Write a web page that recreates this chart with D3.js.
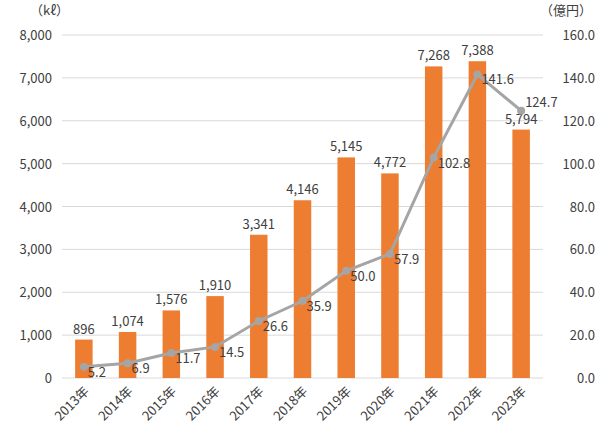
<!DOCTYPE html><html><head><meta charset="utf-8"><script src="https://cdn.jsdelivr.net/npm/d3@7"></script>
<style>body{margin:0;background:#fff}text{font-family:"Noto Sans CJK JP","Noto Sans",sans-serif;fill:#404040}</style></head><body><svg id="c" width="600" height="437"></svg><script>
const years=["2013年","2014年","2015年","2016年","2017年","2018年","2019年","2020年","2021年","2022年","2023年"];
const volume=[896,1074,1576,1910,3341,4146,5145,4772,7268,7388,5794];
const value=[5.2,6.9,11.7,14.5,26.6,35.9,50.0,57.9,102.8,141.6,124.7];
const leftTicks=[0,1000,2000,3000,4000,5000,6000,7000,8000];
const rightTicks=[0,20,40,60,80,100,120,140,160];
const svg=d3.select("#c");
const L=62,R=543,T=35,B=378;
const x=d3.scaleBand().domain(years).range([L,R]).paddingInner(0.6).paddingOuter(0.3);
const y=d3.scaleLinear().domain([0,8000]).range([B,T]);
const y2=d3.scaleLinear().domain([0,160]).range([B,T]);
svg.append("g").selectAll("line").data(leftTicks).join("line").attr("x1",L).attr("x2",R).attr("y1",d=>y(d)).attr("y2",d=>y(d)).attr("stroke","#d9d9d9");
svg.append("g").selectAll("text").data(leftTicks).join("text").attr("x",L-10).attr("y",d=>y(d)+5).attr("text-anchor","end").attr("font-size",13).text(d3.format(","));
svg.append("g").selectAll("text").data(rightTicks).join("text").attr("x",R+52).attr("y",d=>y2(d)+5).attr("text-anchor","end").attr("font-size",13).text(d=>d.toFixed(1));
svg.append("text").attr("x",30).attr("y",15).attr("font-size",13).text("（kℓ）");
svg.append("text").attr("x",540).attr("y",15).attr("font-size",13).text("（億円）");
svg.append("g").selectAll("rect").data(years).join("rect").attr("x",d=>x(d)).attr("width",x.bandwidth()).attr("y",(d,i)=>y(volume[i])).attr("height",(d,i)=>B-y(volume[i])).attr("fill","#ED7D31");
svg.append("g").selectAll("text").data(years).join("text").attr("x",d=>x(d)+x.bandwidth()/2).attr("y",(d,i)=>y(volume[i])-6).attr("text-anchor","middle").attr("font-size",13).text((d,i)=>d3.format(",")(volume[i]));
const cx=d=>x(d)+x.bandwidth()/2;
svg.append("path").datum(years).attr("d",d3.line().x(cx).y((d,i)=>y2(value[i]))).attr("fill","none").attr("stroke","#A5A5A5").attr("stroke-width",3);
svg.append("g").selectAll("circle").data(years).join("circle").attr("cx",cx).attr("cy",(d,i)=>y2(value[i])).attr("r",4).attr("fill","#A5A5A5");
svg.append("g").selectAll("text").data(years).join("text").attr("x",d=>cx(d)+4).attr("y",(d,i)=>y2(value[i])+(i===10?-4:10)).attr("font-size",13).text((d,i)=>value[i].toFixed(1));
svg.append("g").selectAll("text").data(years).join("text").attr("transform",d=>`translate(${cx(d)+6},${B+14}) rotate(-45)`).attr("text-anchor","end").attr("font-size",13).text(d=>d);
</script></body></html>
